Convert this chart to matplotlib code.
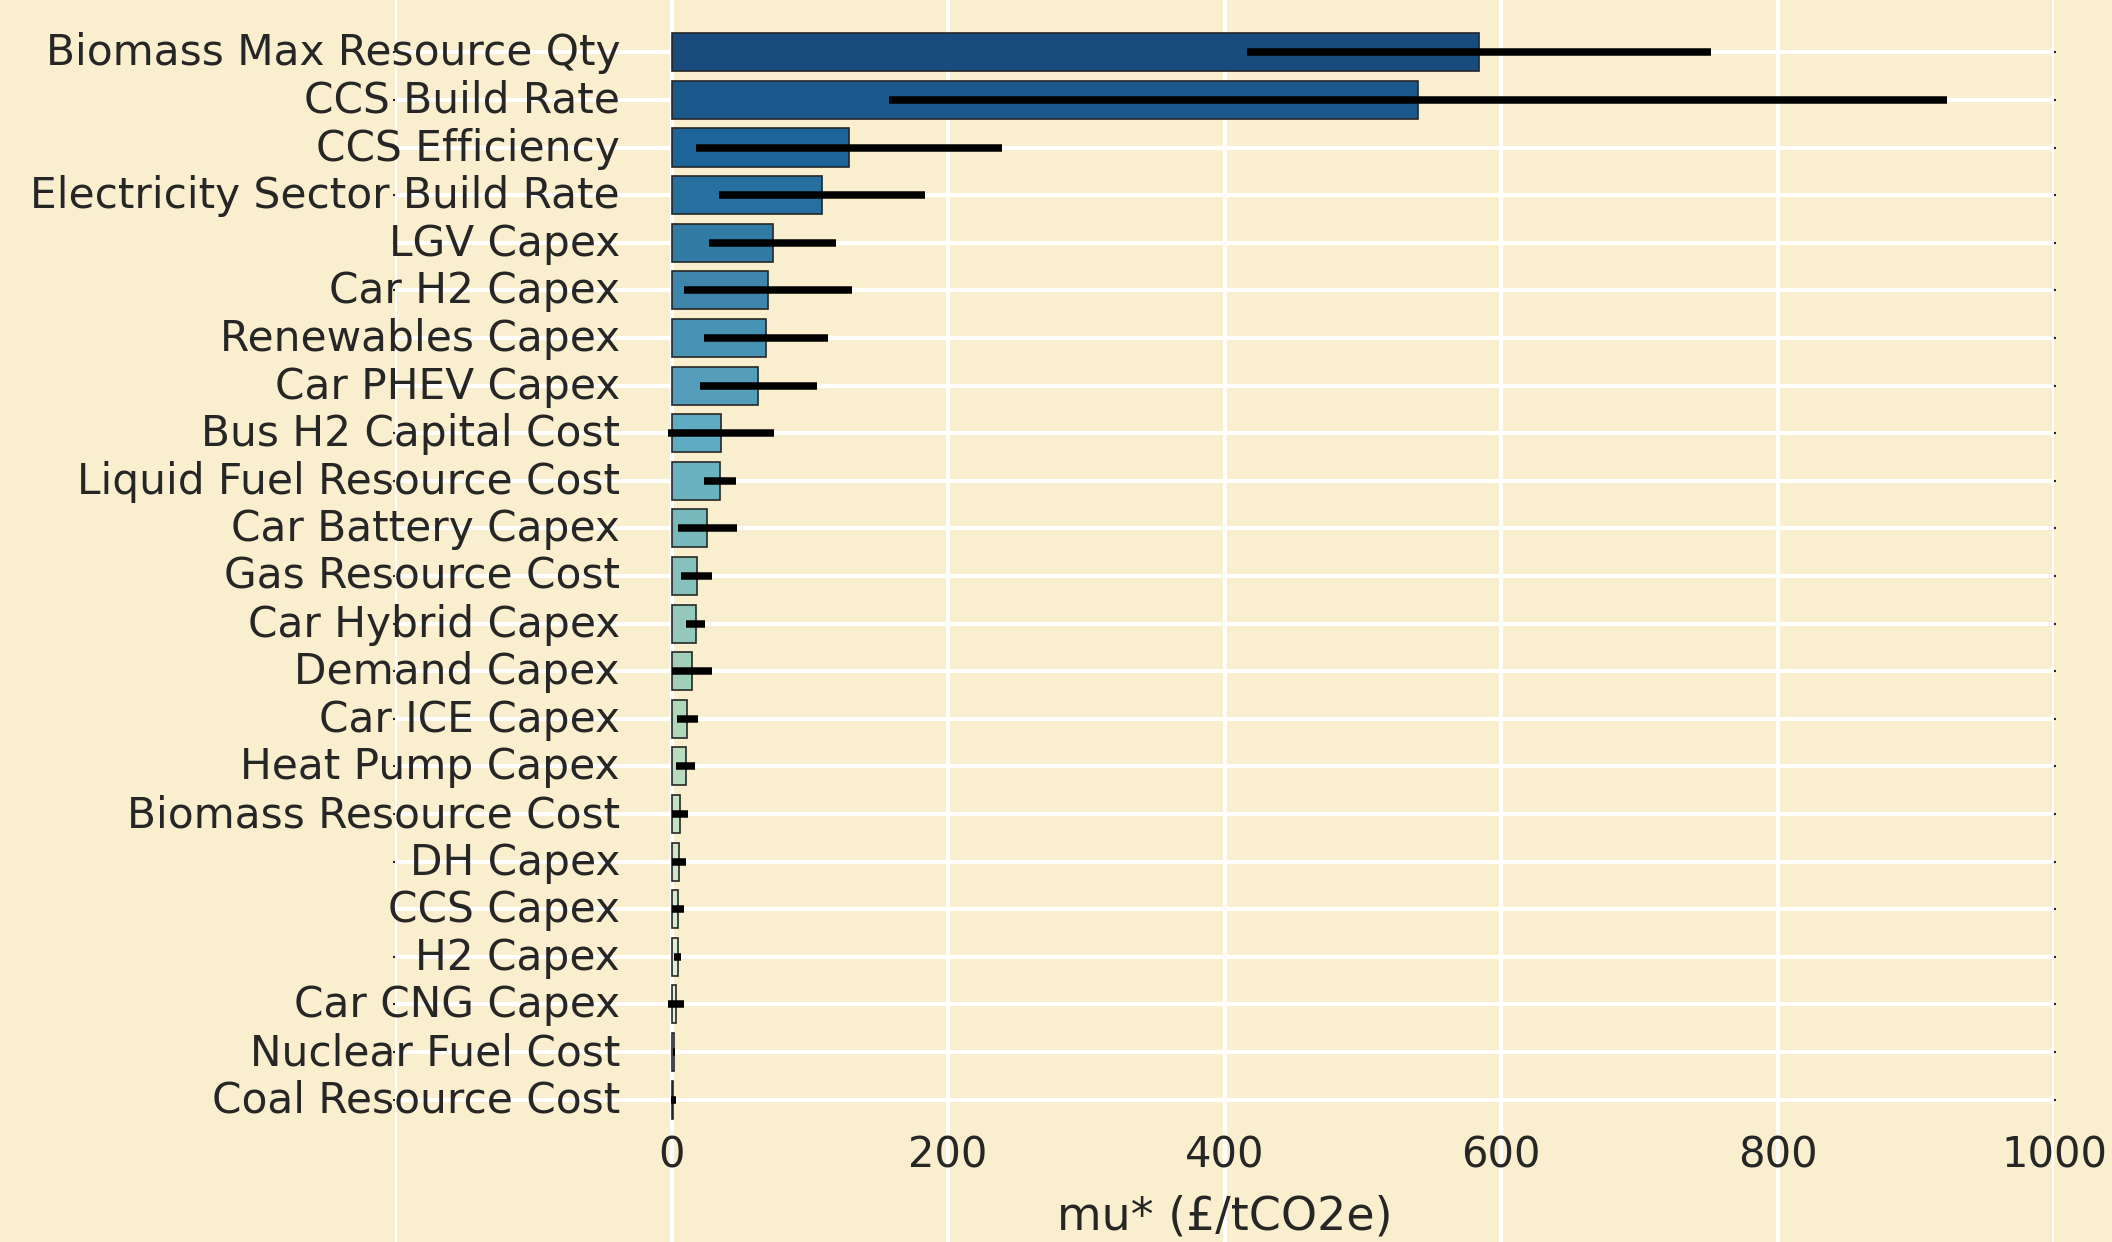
import colorsys

import matplotlib
matplotlib.use("Agg")
import matplotlib.pyplot as plt
import numpy as np

# Morris screening results, sorted by mu*
labels = [
    "Biomass Max Resource Qty", "CCS Build Rate", "CCS Efficiency",
    "Electricity Sector Build Rate", "LGV Capex", "Car H2 Capex",
    "Renewables Capex", "Car PHEV Capex", "Bus H2 Capital Cost",
    "Liquid Fuel Resource Cost", "Car Battery Capex", "Gas Resource Cost",
    "Car Hybrid Capex", "Demand Capex", "Car ICE Capex", "Heat Pump Capex",
    "Biomass Resource Cost", "DH Capex", "CCS Capex", "H2 Capex",
    "Car CNG Capex", "Nuclear Fuel Cost", "Coal Resource Cost",
]
mu_star = [584, 540, 128.6, 109, 73.1, 69.8, 68.5, 62.8, 35.7, 35.0, 25.9,
           18.2, 17.5, 14.6, 11.5, 10.2, 5.9, 5.3, 4.5, 4.4, 3.1, 1.7, 1.3]
mu_star_conf = [168, 382.5, 110.7, 74.3, 45.8, 60.9, 44.9, 42.3, 38.3, 11.4,
                21.3, 11.2, 6.9, 14.6, 7.6, 6.6, 5.9, 5.3, 4.5, 2.8, 5.8,
                0.7, 2.0]
xticks = [-200, 0, 200, 400, 600, 800, 1000]
xtick_labels = ["", "0", "200", "400", "600", "800", "1000"]

bg = "#f9efcf"
text_color = "#262626"

# GnBu_r palette, desaturated like seaborn's barplot does
n = len(labels)
cmap = plt.get_cmap("GnBu_r")
colors = []
for p in np.linspace(0, 1, n + 2)[1:-1]:
    r, g, b, _ = cmap(p)
    h, l, s = colorsys.rgb_to_hls(r, g, b)
    colors.append(colorsys.hls_to_rgb(h, l, s * 0.75))

plt.rcParams["font.family"] = "DejaVu Sans"
plt.rcParams["text.color"] = text_color
plt.rcParams["xtick.color"] = text_color
plt.rcParams["ytick.color"] = text_color
plt.rcParams["axes.labelcolor"] = text_color

fig = plt.figure(figsize=(7.04, 4.1433), dpi=300, facecolor=bg)
ax = fig.add_axes([395 / 2112, 0, (2054 - 395) / 2112, 1], facecolor=bg)

y = np.arange(n)
ax.barh(y, mu_star, height=0.8, color=colors, edgecolor=".15",
        linewidth=0.4, zorder=2)
ax.errorbar(mu_star, y, xerr=mu_star_conf, fmt="none", ecolor="black",
            elinewidth=1.8, capsize=0, zorder=3)

ax.set_xlim(-200, 1000)
ax.set_ylim(24.99, -1.12)
ax.set_yticks(y, labels)
ax.set_xticks(xticks, xtick_labels)

ax.grid(color="white", linewidth=1)
ax.set_axisbelow(True)
for side in ax.spines:
    ax.spines[side].set_visible(False)

ax.tick_params(axis="y", left=True, right=True, length=0.5, width=0.5,
               color=".15", labelsize=10.15, pad=-54.5)
for lbl in ax.get_yticklabels():
    lbl.set_verticalalignment("center")
ax.tick_params(axis="x", length=0, labelsize=10, pad=-26)

ax.set_xlabel("mu* (£/tCO2e)", fontsize=11)
ax.xaxis.set_label_coords(0.5, 0.021)
ax.xaxis.label.set_verticalalignment("center")

fig.savefig("out.png", dpi=300, facecolor=bg)
